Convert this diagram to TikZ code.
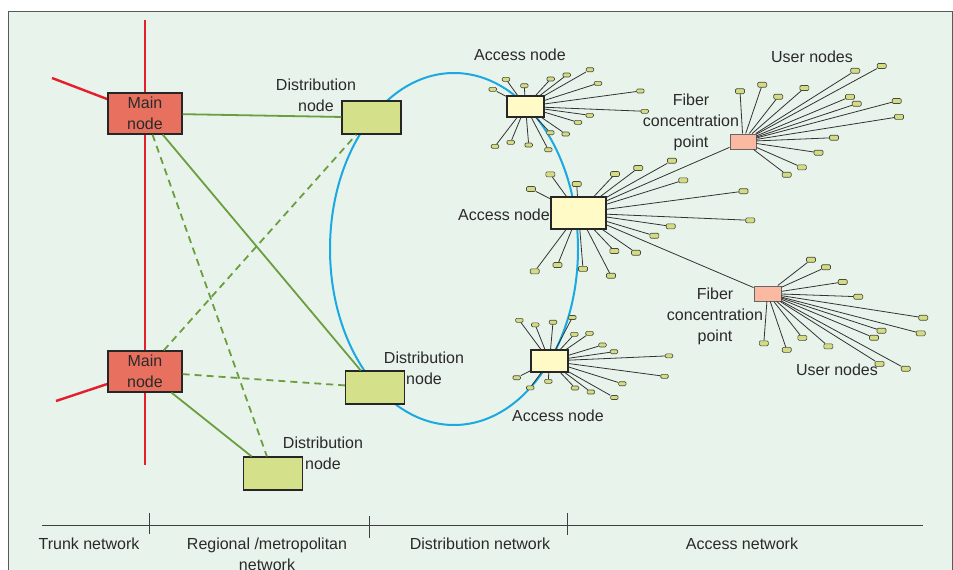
\documentclass[tikz,border=0pt]{standalone}
\usepackage{fontspec}
\setmainfont{Liberation Sans}
\definecolor{bgc}{HTML}{E8F3EB}
\definecolor{framec}{HTML}{5A5A5A}
\definecolor{redl}{HTML}{E41E2B}
\definecolor{mainred}{HTML}{E8705F}
\definecolor{distgreen}{HTML}{D4E08A}
\definecolor{greenl}{HTML}{6B9E3F}
\definecolor{ringc}{HTML}{1BA9E1}
\definecolor{accyellow}{HTML}{FFFAC6}
\definecolor{fiberpink}{HTML}{FBB9A2}
\definecolor{leafgreen}{HTML}{D3DC85}
\definecolor{leafborder}{HTML}{4A4A3A}
\definecolor{fanl}{HTML}{333333}
\definecolor{textc}{HTML}{2A2A2A}
\begin{document}
\begin{tikzpicture}[x=1pt,y=-1pt,
  lbl/.style={font=\fontsize{16}{21}\selectfont, text=textc, align=center, inner sep=0pt},
  mainbox/.style={draw=black!85, line width=1.2pt, fill=mainred, minimum width=74pt, minimum height=41pt, inner sep=0pt, align=center, font=\fontsize{16}{21}\selectfont, text=textc},
  distbox/.style={draw=black!85, line width=1.2pt, fill=distgreen, minimum width=59pt, minimum height=33pt, inner sep=0pt},
  accbox/.style={draw=black!85, line width=1.2pt, fill=accyellow, inner sep=0pt},
  fiberbox/.style={draw=black!60, line width=1pt, fill=fiberpink, minimum width=26pt, minimum height=15pt, inner sep=0pt},
  leaf/.style={draw=leafborder, fill=leafgreen, rounded corners=1.2pt, line width=0.6pt, inner sep=0pt},
  leafL/.style={leaf, minimum width=9pt, minimum height=5pt},
  leafS/.style={leaf, minimum width=7.5pt, minimum height=4pt},
  fan/.style={draw=fanl, line width=0.8pt},
  redline/.style={draw=redl, line width=2.4pt},
  glink/.style={draw=greenl, line width=1.8pt},
  gdash/.style={glink, dash pattern=on 7pt off 5pt},
  ring/.style={draw=ringc, line width=2pt},
  axis/.style={draw=black!75, line width=0.8pt}]
\useasboundingbox (0,0) rectangle (953,570);
\clip (0,0) rectangle (953,570);
\fill[white] (0,0) rectangle (953,570);
\draw[fill=bgc, draw=framec, line width=1pt] (8,11) rectangle (952,590);

% ring
\draw[ring] (454,249) ellipse [x radius=124pt, y radius=176pt];

% red trunk lines (drawn first, hidden behind the main nodes)
\coordinate (rt) at (145,20);
\coordinate (rb) at (145,465);
\coordinate (ra) at (52,78);
\coordinate (rc) at (56,401);
\coordinate (m1c) at (145,113.5);
\coordinate (m2c) at (145,371.5);
\draw[redline] (rt) -- (rb);
\draw[redline] (ra) -- (m1c);
\draw[redline] (rc) -- (m2c);

% nodes of trunk/regional level
\node[mainbox] (m1) at (m1c) {Main\\node};
\node[mainbox] (m2) at (m2c) {Main\\node};
\node[distbox] (d1) at (371.5,117.5) {};
\node[distbox] (d2) at (375,387.5) {};
\node[distbox] (d3) at (273,473.5) {};

% green links
\draw[glink] (m1) -- (d1);
\draw[glink] (m1) -- (d2);
\draw[gdash] (m1) -- (d3);
\draw[gdash] (m2) -- (d1);
\draw[gdash] (m2) -- (d2);
\draw[glink] (m2) -- (d3);

% labels
\node[lbl] (ld1) at (316,95) {Distribution\\node};
\node[lbl] (ld2) at (424,368.5) {Distribution\\node};
\node[lbl] (ld3) at (323,453) {Distribution\\node};

% access nodes and fiber points
\node[accbox, minimum width=37pt, minimum height=21pt] (acc1) at (525.5,106.5) {};
\node[accbox, minimum width=55pt, minimum height=32pt] (acc2) at (578.5,213) {};
\node[accbox, minimum width=37pt, minimum height=22pt] (acc3) at (549.5,361) {};
\node[fiberbox] (f1) at (743,141.5) {};
\node[fiberbox, minimum width=27pt] (f2) at (767.5,293.5) {};
\draw[fan] (acc2) -- (f1);
\draw[fan] (acc2) -- (f2);

\foreach \px/\py [count=\i] in {492.7/89.3, 506/79.3, 524.3/85.7, 550.7/79, 566.7/75, 590/69.7, 598/83.3, 640.3/91, 644.7/111.3, 589.7/115.3, 578/122.3, 565.7/134, 550.3/132.7, 548.3/149.7, 528.7/145, 510.7/142.3, 495/146.3}
  {\node[leafS] (ua\i) at (\px,\py) {}; \draw[fan] (acc1) -- (ua\i);}
\foreach \px/\py [count=\i] in {531/189, 550.3/174.3, 576.7/184, 615/174, 638.2/168, 672/160.7, 683.2/180.3, 743.5/191.2, 750.2/220.3, 670.7/226.3, 654.3/235.7, 636/252.7, 614.3/251, 611/275.7, 583/268.8, 557.5/265, 534.7/271.3}
  {\node[leafL] (ub\i) at (\px,\py) {}; \draw[fan] (acc2) -- (ub\i);}
\foreach \px/\py [count=\i] in {519.3/320.3, 535.2/324.8, 553/322.2, 572.3/317.5, 574.3/334.3, 589.5/333.3, 602.5/345, 614/351.7, 669/355.8, 664.5/376.3, 622.3/383.7, 614.3/397.5, 590.8/392, 575/388, 548.3/381.3, 530.2/387.8, 516.7/377.7}
  {\node[leafS] (uc\i) at (\px,\py) {}; \draw[fan] (acc3) -- (uc\i);}
\foreach \px/\py [count=\i] in {740/91.2, 762.2/84.7, 778.2/96.7, 804.4/88, 855.2/70.7, 881.7/66, 850/96.8, 856.7/103.7, 896.7/101, 899/116.8, 834/137.7, 818.5/152.7, 801.8/167.3, 786.7/174.7}
  {\node[leafL] (ud\i) at (\px,\py) {}; \draw[fan] (f1) -- (ud\i);}
\foreach \px/\py [count=\i] in {811/259.7, 826/267.2, 842.7/282, 858.2/296.7, 923.2/317.7, 920.7/333.3, 881.5/330.7, 874/337.7, 802.3/337.8, 828.3/346.3, 786.7/349.8, 763.8/343.3, 879.5/363.8, 905.7/368.7}
  {\node[leafL] (ue\i) at (\px,\py) {}; \draw[fan] (f2) -- (ue\i);}

\node[lbl] (la1) at (520,55) {Access node};
\node[lbl, anchor=east] (la2) at (550,215) {Access node};
\node[lbl] (la3) at (558,416) {Access node};
\node[lbl] (lf1) at (691,122) {Fiber\\concentration\\point};
\node[lbl] (lf2) at (715,316) {Fiber\\concentration\\point};
\node[lbl] (lu1) at (812,57) {User nodes};
\node[lbl] (lu2) at (837,370) {User nodes};

% axis
\coordinate (ax0) at (42,525);
\coordinate (ax1) at (923,525);
\draw[axis] (ax0) -- (ax1);
\coordinate (t1a) at (149,513); \coordinate (t1b) at (149,534);
\coordinate (t2a) at (369,516); \coordinate (t2b) at (369,538);
\coordinate (t3a) at (567,513); \coordinate (t3b) at (567,535);
\draw[axis] (t1a) -- (t1b);
\draw[axis] (t2a) -- (t2b);
\draw[axis] (t3a) -- (t3b);
\node[lbl] (s1) at (89,544) {Trunk network};
\node[lbl, anchor=north] (s2) at (267,537.5) {Regional /metropolitan\\network};
\node[lbl] (s3) at (480,544) {Distribution network};
\node[lbl] (s4) at (742,544) {Access network};
\end{tikzpicture}
\end{document}
